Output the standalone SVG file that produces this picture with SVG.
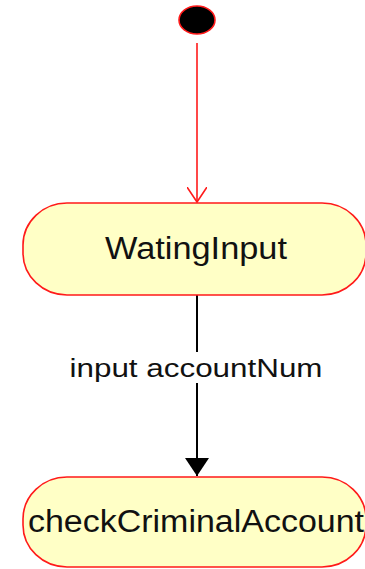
<svg xmlns="http://www.w3.org/2000/svg" width="365" height="569" viewBox="0 0 365 569">
<style>
.state{fill:#ffffc6;stroke:#ff1a1a;stroke-width:1.6}
.lbl{font-family:"Liberation Sans",Arial,sans-serif;fill:#111}
</style>
<defs>
<marker id="open" viewBox="0 0 20 20" refX="15" refY="10" markerWidth="20" markerHeight="20" markerUnits="userSpaceOnUse" orient="auto">
<path d="M0,0 L15,10 L0,20" fill="none" stroke="#ff1a1a" stroke-width="1.6"/>
</marker>
<marker id="solid" viewBox="0 0 18 24" refX="18" refY="12" markerWidth="18" markerHeight="24" markerUnits="userSpaceOnUse" orient="auto">
<path d="M0,0 L18,12 L0,24 Z" fill="#000"/>
</marker>
</defs>
<g id="connectors">
<line x1="197" y1="43" x2="197" y2="202" stroke="#ff1a1a" stroke-width="1.6" marker-end="url(#open)"/>
<line x1="197" y1="295" x2="197" y2="352" stroke="#000" stroke-width="2"/>
<line x1="197" y1="383" x2="197" y2="476" stroke="#000" stroke-width="2" marker-end="url(#solid)"/>
<text class="lbl" x="196" y="377" font-size="26" text-anchor="middle" textLength="253" lengthAdjust="spacingAndGlyphs">input accountNum</text>
</g>
<g id="initial">
<ellipse cx="197" cy="20" rx="18" ry="14" fill="#000" stroke="#ff1a1a" stroke-width="1.6"/>
</g>
<g id="WatingInput">
<rect class="state" x="23" y="203" width="343" height="92" rx="44" ry="42"/>
<text class="lbl" x="196" y="259" font-size="31" text-anchor="middle" textLength="182" lengthAdjust="spacingAndGlyphs">WatingInput</text>
</g>
<g id="checkCriminalAccount">
<rect class="state" x="23" y="477" width="343" height="90" rx="44" ry="42"/>
<text class="lbl" x="28" y="532" font-size="31" textLength="336" lengthAdjust="spacingAndGlyphs">checkCriminalAccount</text>
</g>
</svg>
